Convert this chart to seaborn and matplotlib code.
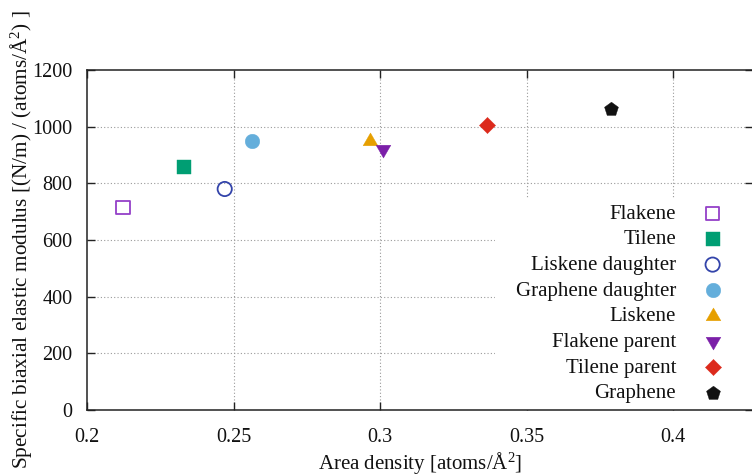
import matplotlib
matplotlib.use("Agg")
import matplotlib.pyplot as plt
from matplotlib.patches import Rectangle
from matplotlib.ticker import FixedLocator, FuncFormatter
import seaborn as sns
import pandas as pd

# Materials, area density (atoms/Å^2) and specific biaxial elastic modulus
materials = ["Flakene", "Tilene", "Liskene daughter", "Graphene daughter",
             "Liskene", "Flakene parent", "Tilene parent", "Graphene"]
area_density = [0.2122, 0.2330, 0.2470, 0.2562, 0.2966, 0.3011, 0.3364, 0.3790]
modulus = [715, 859, 780, 949, 949, 922, 1006, 1061]

x_ticks = [0.2, 0.25, 0.3, 0.35, 0.4]
y_ticks = [0, 200, 400, 600, 800, 1000, 1200]

# marker style per material: (marker, colour, hollow, size in pt^2)
styles = {
    "Flakene": ("s", "#9440c8", True, 95),
    "Tilene": ("s", "#009e73", False, 100),
    "Liskene daughter": ("o", "#3344aa", True, 105),
    "Graphene daughter": ("o", "#64aedb", False, 110),
    "Liskene": ((3, 0, 0), "#e69f00", False, 150),
    "Flakene parent": ((3, 0, 180), "#7b1fa8", False, 150),
    "Tilene parent": ("D", "#dc2a1c", False, 68),
    "Graphene": ("p", "#111111", False, 110),
}

FS_TICK = 14.5
FS_TEXT = 15.0

df = pd.DataFrame({"material": materials, "density": area_density, "modulus": modulus})

sns.set_theme(style="white")
plt.rcParams["font.family"] = ["Liberation Serif", "DejaVu Serif"]
plt.rcParams["mathtext.fontset"] = "custom"
plt.rcParams["mathtext.rm"] = "Liberation Serif"
plt.rcParams["mathtext.it"] = "Liberation Serif:italic"
plt.rcParams["lines.scale_dashes"] = False

fig = plt.figure(figsize=(7.52, 4.76), dpi=100)
ax = fig.add_axes([87 / 752, 66 / 476, 666 / 752, 340 / 476])

x_lo, x_hi = 0.2, 0.2 + 666 / 2930
ax.set_xlim(x_lo, x_hi)
ax.set_ylim(0, 1200)

# dotted grid on the major ticks
grid_kw = dict(color="#9a9a9a", linewidth=0.8, linestyle=(0, (0.8, 1.6)), zorder=0.5)
ax.vlines(x_ticks[1:], 0, 1200, **grid_kw)
ax.hlines(y_ticks[1:-1], x_lo, x_hi, **grid_kw)

# white key area that hides the grid behind the legend
ax.add_patch(Rectangle((0.6126, 0.0), 0.40, 0.6235, transform=ax.transAxes,
                       facecolor="white", edgecolor="none", zorder=1))

for name in materials:
    marker, color, hollow, size = styles[name]
    sub = df[df["material"] == name]
    sns.scatterplot(data=sub, x="density", y="modulus", ax=ax, marker=marker,
                    s=size, color=color, label=name, zorder=3, linewidth=0)
    coll = ax.collections[-1]
    if hollow:
        coll.set_facecolor("none")
        coll.set_edgecolor(color)
        coll.set_linewidth(1.3)
    else:
        coll.set_facecolor(color)
        coll.set_edgecolor(color)
        coll.set_linewidth(0.3)

ax.xaxis.set_major_locator(FixedLocator(x_ticks))
ax.yaxis.set_major_locator(FixedLocator(y_ticks))
ax.xaxis.set_major_formatter(FuncFormatter(lambda v, p: f"{v:g}"))
ax.tick_params(axis="both", which="major", direction="in", length=5.8, width=1.0,
               color="#222222", labelsize=FS_TICK, labelcolor="#111111",
               top=True, right=True, bottom=True, left=True)
ax.tick_params(axis="x", pad=13)
ax.tick_params(axis="y", pad=10.5)

for side in ["left", "right", "top", "bottom"]:
    ax.spines[side].set_visible(True)
    ax.spines[side].set_color("#222222")
    ax.spines[side].set_linewidth(1.1)
    ax.spines[side].set_zorder(4)

ax.set_xlabel(r"Area density [atoms/$\mathrm{Å}^{2}$]", fontsize=FS_TEXT, color="#111111")
ax.set_ylabel(r"Specific biaxial elastic modulus [(N/m) / (atoms/$\mathrm{Å}^{2}$) ]",
              fontsize=15.3, color="#111111")
ax.xaxis.set_label_coords(0.5, -0.117)
ax.yaxis.set_label_coords(-0.079, 0.5)

leg = ax.legend(loc="lower right", bbox_to_anchor=(0.955, 0.02), frameon=False,
                markerfirst=False, fontsize=FS_TEXT, handlelength=1.0, handletextpad=1.25,
                labelspacing=0.29, borderpad=0.0, borderaxespad=0.0)
leg.set_zorder(5)
for t in leg.get_texts():
    t.set_color("#111111")

fig.savefig("out.png", dpi=100)
